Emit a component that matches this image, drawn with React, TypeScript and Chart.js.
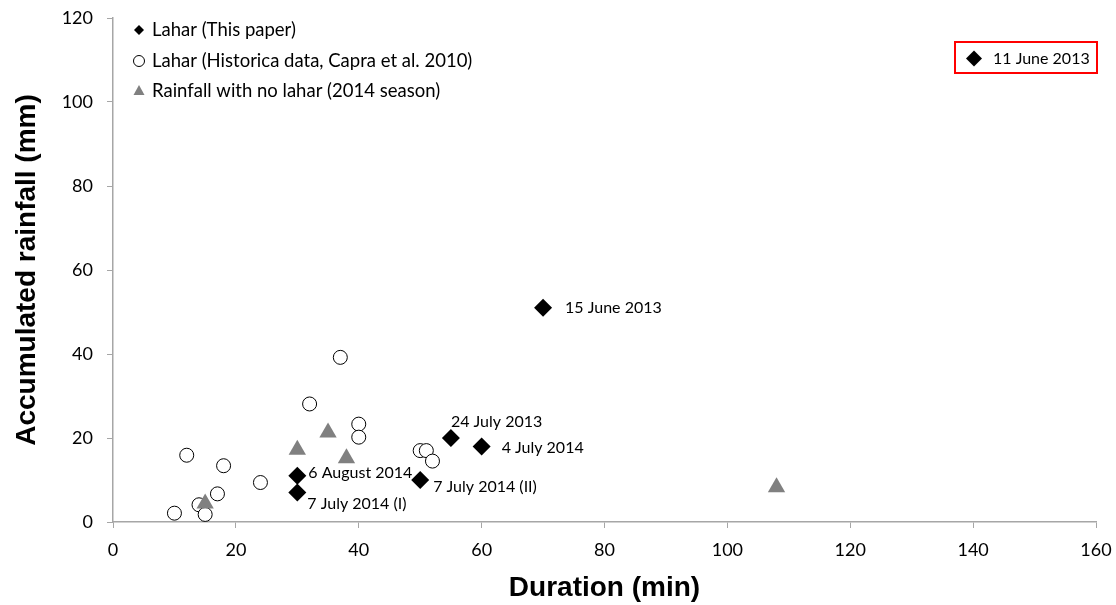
import { useEffect, useRef } from 'react';
import { Chart, registerables } from 'chart.js';
Chart.register(...registerables);

const FONT = 'Lato, "Open Sans", sans-serif';
const TITLE_FONT = '"Liberation Sans", Arial, sans-serif';

// Lahar (this paper)
const laharX = [30, 30, 50, 55, 60, 70];
const laharY = [11, 7, 10, 20, 18, 51];
const laharLabels = ['6 August 2014', '7 July 2014 (I)', '7 July 2014 (II)', '24 July 2013', '4 July 2014', '15 June 2013'];
const laharLabelOffsets = [[11, -3], [10, 11], [13, 7], [0, -16], [20, 1], [22, 0]];

// Historical data (Capra et al. 2010)
const histX = [10, 14, 15, 12, 18, 17, 24, 32, 37, 40, 40, 50, 51, 52];
const histY = [2.1, 4.1, 1.8, 15.9, 13.4, 6.7, 9.4, 28.1, 39.2, 23.3, 20.2, 17, 17, 14.5];

// Rainfall with no lahar (2014 season)
const noLaharX = [15, 30, 35, 38, 108];
const noLaharY = [4.4, 17.2, 21.3, 15.2, 8.3];

const legendLabels = ['Lahar (This paper)', 'Lahar (Historica data, Capra et al. 2010)', 'Rainfall with no lahar (2014 season)'];
const offChartLabel = '11 June 2013';

const toPts = (xs: number[], ys: number[]) => xs.map((x, i) => ({ x, y: ys[i] }));

const GRAY = '#808080';
const AXIS = '#a6a6a6';

function diamond(ctx: CanvasRenderingContext2D, x: number, y: number, r: number) {
  ctx.beginPath();
  ctx.moveTo(x, y - r);
  ctx.lineTo(x + r, y);
  ctx.lineTo(x, y + r);
  ctx.lineTo(x - r, y);
  ctx.closePath();
  ctx.fillStyle = '#000';
  ctx.fill();
}

const overlayPlugin = {
  id: 'overlay',
  afterDatasetsDraw(chart: any) {
    const ctx: CanvasRenderingContext2D = chart.ctx;
    const xs = chart.scales.x;
    const ys = chart.scales.y;
    ctx.save();
    ctx.font = `16px ${FONT}`;
    ctx.fillStyle = '#000';
    ctx.textBaseline = 'middle';
    ctx.textAlign = 'left';
    // point labels
    laharLabels.forEach((lab, i) => {
      const px = xs.getPixelForValue(laharX[i]);
      const py = ys.getPixelForValue(laharY[i]);
      ctx.fillText(lab, px + laharLabelOffsets[i][0], py + laharLabelOffsets[i][1]);
    });
    // legend
    const lx = xs.left + 26;
    const ly = [ys.top + 12, ys.top + 43, ys.top + 73];
    diamond(ctx, lx, ly[0], 5);
    ctx.beginPath();
    ctx.arc(lx, ly[1], 5.5, 0, Math.PI * 2);
    ctx.strokeStyle = '#000';
    ctx.lineWidth = 1;
    ctx.stroke();
    ctx.beginPath();
    ctx.moveTo(lx, ly[2] - 6);
    ctx.lineTo(lx + 5.5, ly[2] + 4);
    ctx.lineTo(lx - 5.5, ly[2] + 4);
    ctx.closePath();
    ctx.fillStyle = GRAY;
    ctx.fill();
    ctx.fillStyle = '#000';
    ctx.font = `18.5px ${FONT}`;
    legendLabels.forEach((t, i) => ctx.fillText(t, lx + 13, ly[i]));
    // off-chart point box
    ctx.font = `16px ${FONT}`;
    const bx = xs.right - 141, by = ys.top + 24, bw = 142, bh = 31;
    ctx.strokeStyle = '#ff0000';
    ctx.lineWidth = 2;
    ctx.strokeRect(bx, by, bw, bh);
    diamond(ctx, bx + 19, by + bh / 2 + 1, 8);
    ctx.fillStyle = '#000';
    ctx.fillText(offChartLabel, bx + 38, by + bh / 2 + 1);
    ctx.restore();
  },
};

export default function App() {
  const ref = useRef<HTMLCanvasElement>(null);
  useEffect(() => {
    document.body.style.margin = '0';
    const chart = new Chart(ref.current!, {
      type: 'scatter',
      data: {
        datasets: [
          {
            label: legendLabels[0],
            data: toPts(laharX, laharY),
            pointStyle: 'rectRot',
            pointRadius: 9,
            backgroundColor: '#000',
            borderColor: '#000',
            borderWidth: 0,
            order: 0,
          },
          {
            label: legendLabels[1],
            data: toPts(histX, histY),
            pointStyle: 'circle',
            pointRadius: 7,
            backgroundColor: '#fff',
            borderColor: '#000',
            borderWidth: 1,
            order: 2,
          },
          {
            label: legendLabels[2],
            data: toPts(noLaharX, noLaharY),
            pointStyle: 'triangle',
            pointRadius: 10,
            backgroundColor: GRAY,
            borderColor: GRAY,
            borderWidth: 0,
            order: 1,
          },
        ],
      },
      options: {
        animation: false,
        responsive: true,
        maintainAspectRatio: false,
        layout: { padding: { top: 18, right: 20, left: 0, bottom: 0 } },
        plugins: { legend: { display: false }, tooltip: { enabled: false } },
        scales: {
          x: {
            type: 'linear',
            min: 0,
            max: 160,
            ticks: { stepSize: 20, color: '#000', font: { family: FONT, size: 18 }, padding: 11 },
            grid: { display: true, drawOnChartArea: false, drawTicks: true, tickLength: 6, color: AXIS },
            border: { color: AXIS, width: 1.5 },
            title: { display: true, text: 'Duration (min)', color: '#000', font: { family: TITLE_FONT, size: 28, weight: 'bold' }, padding: { top: 0, bottom: 0 } },
            afterFit: (s: any) => { s.height = 605 - 522; s.paddingLeft = 0; s.paddingRight = 0; },
          },
          y: {
            type: 'linear',
            min: 0,
            max: 120,
            ticks: { stepSize: 20, color: '#000', font: { family: FONT, size: 18 }, padding: 14 },
            grid: { display: true, drawOnChartArea: false, drawTicks: true, tickLength: 6, color: AXIS },
            border: { color: AXIS, width: 1.5 },
            title: { display: true, text: 'Accumulated rainfall (mm)', color: '#000', font: { family: TITLE_FONT, size: 28, weight: 'bold' }, padding: { top: 10, bottom: 0 } },
            afterFit: (s: any) => { s.width = 113; s.paddingTop = 0; s.paddingBottom = 0; },
          },
        },
      },
      plugins: [overlayPlugin],
    });
    return () => chart.destroy();
  }, []);
  return (
    <div style={{ position: 'fixed', left: 0, top: 0, width: 1116, height: 605 }}>
      <canvas ref={ref} />
    </div>
  );
}
